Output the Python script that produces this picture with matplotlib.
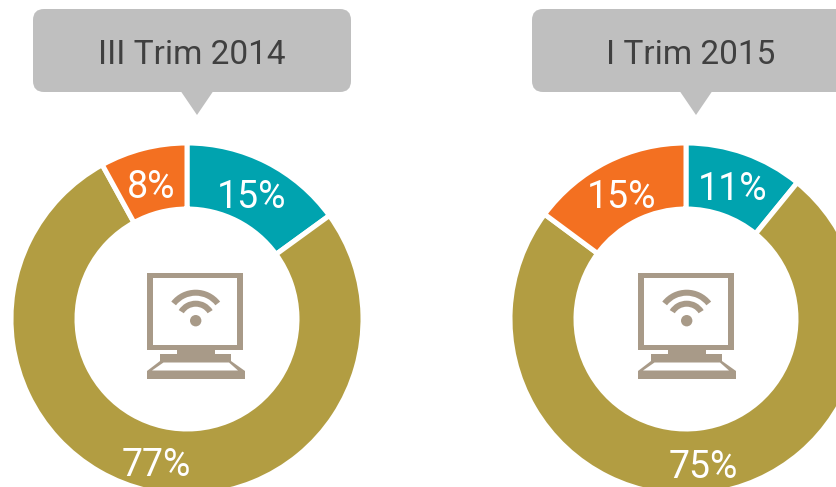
import matplotlib
matplotlib.use("Agg")
import matplotlib.pyplot as plt
from matplotlib.patches import FancyBboxPatch, Polygon, Wedge, Circle, Rectangle
from matplotlib import font_manager as fm

W, H = 837, 487
periods = ["III Trim 2014", "I Trim 2015"]
teal_values = [15, 11]
olive_values = [77, 75]
orange_values = [8, 15]
colors = ["#00A3AF", "#B29D42", "#F37021"]

print(sorted({f.name for f in fm.fontManager.ttflist}))
print([(f.name, f.stretch, f.fname) for f in fm.fontManager.ttflist if "ondensed" in f.fname or "arrow" in f.fname or f.stretch != "normal" and f.stretch != 500][:20])
family = "Roboto"

fig = plt.figure(figsize=(W / 100, H / 100), dpi=100)
ax = fig.add_axes([0, 0, 1, 1])


def Y(y):
    return H - y


ICON = "#A89A88"
GREY = "#BFBFBF"


def callout(dx, text_x, tip_x, label):
    ax.add_patch(FancyBboxPatch((33 + dx + 11, Y(92) + 11), 296, 61,
                                boxstyle="round,pad=11,rounding_size=11",
                                fc=GREY, ec="none", zorder=2))
    ax.add_patch(Polygon([(tip_x - 16, Y(92) + 0.5), (tip_x + 16, Y(92) + 0.5), (tip_x, Y(115))],
                         fc=GREY, ec="none", zorder=2))
    ax.text(text_x, Y(52), label, ha="center", va="center_baseline", family=family,
            fontsize=24, color="#404040", zorder=3)


def icon(dx):
    def rect(x0, y0, x1, y1, c):
        ax.add_patch(Rectangle((x0 + dx, Y(y1)), x1 - x0, y1 - y0, fc=c, ec="none", zorder=4))
    rect(147, 273, 243, 350, ICON)
    rect(153, 278, 237, 345, "white")
    rect(177, 350, 215, 355, ICON)
    rect(160, 354, 231, 362, ICON)
    ax.add_patch(Polygon([(160 + dx, Y(361)), (147 + dx, Y(371)), (147 + dx, Y(379)),
                          (245 + dx, Y(379)), (245 + dx, Y(371)), (231 + dx, Y(361))],
                         fc=ICON, ec="none", zorder=4))
    ax.add_patch(Polygon([(163.5 + dx, Y(362.5)), (152 + dx, Y(370.5)),
                          (238 + dx, Y(370.5)), (229 + dx, Y(362.5))],
                         fc="white", ec="none", zorder=5))
    cx, cy = 195.7 + dx, Y(320.7)
    ax.add_patch(Circle((cx, cy), 5.7, fc=ICON, ec="none", zorder=5))
    ax.add_patch(Wedge((cx, cy), 31, 38, 142, width=6, fc=ICON, ec="none", zorder=5))
    ax.add_patch(Wedge((cx, cy), 20, 32, 148, width=6, fc=ICON, ec="none", zorder=5))


centers = [187, 686]
callout_dx = [0, 499]
text_x = [192, 691]
tip_x = [197, 696]
icon_dx = [0, 491]
label_pos = [
    [(252, 193), (156, 461), (151, 183)],
    [(733, 186), (703, 463), (622, 193)],
]

for i, cx in enumerate(centers):
    vals = [teal_values[i], olive_values[i], orange_values[i]]
    ax.pie(vals, colors=colors, startangle=90, counterclock=False,
           center=(cx, Y(319)), radius=176, frame=False,
           wedgeprops=dict(width=66, edgecolor="white", linewidth=3.6))
    for v, (x, y) in zip(vals, label_pos[i]):
        ax.text(x, Y(y), f"{v}%", ha="center", va="center_baseline", family=family,
                fontsize=27, color="white", zorder=6)
    callout(callout_dx[i], text_x[i], tip_x[i], periods[i])
    icon(icon_dx[i])

ax.set_xlim(0, W)
ax.set_ylim(0, H)
ax.set_aspect("auto")
ax.axis("off")
fig.savefig("out.png", dpi=100, facecolor="white")
